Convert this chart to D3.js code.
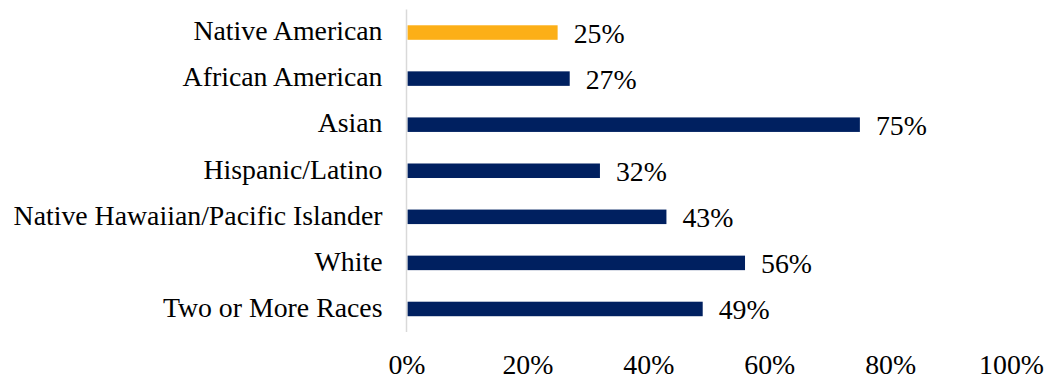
<!DOCTYPE html>
<html>
<head>
<meta charset="utf-8">
<script src="https://cdn.jsdelivr.net/npm/d3@7"></script>
<style>
  html, body { margin: 0; padding: 0; background: #ffffff; }
  svg { display: block; }
  text { font-family: "Liberation Serif", "Times New Roman", serif; fill: #000; }
</style>
</head>
<body>
<svg id="chart" width="1048" height="379"></svg>
<script>
// Share of students by race/ethnicity
const categories = [
  "Native American",
  "African American",
  "Asian",
  "Hispanic/Latino",
  "Native Hawaiian/Pacific Islander",
  "White",
  "Two or More Races"
];
const values = [25, 27, 75, 32, 43, 56, 49];
const highlighted = ["Native American"];
const tickValues = [0, 20, 40, 60, 80, 100];

const svg = d3.select("#chart");
const margin = { top: 9.5, left: 406.5, right: 37, bottom: 47 };
const width = 1048, height = 379;

const x = d3.scaleLinear()
  .domain([0, 100])
  .range([margin.left, width - margin.right]);

const y = d3.scaleBand()
  .domain(categories)
  .range([margin.top, height - margin.bottom])
  .paddingInner(0.685)
  .paddingOuter(0.3425);

const fontSize = 27.8;

// Bars
svg.append("g")
  .selectAll("rect")
  .data(categories)
  .join("rect")
  .attr("x", x(0) + 1)
  .attr("y", d => y(d))
  .attr("width", (d, i) => x(values[i]) - x(0) - 1)
  .attr("height", y.bandwidth())
  .attr("fill", d => highlighted.includes(d) ? "#FCAF17" : "#002060");

// Vertical category axis line
svg.append("line")
  .attr("x1", x(0)).attr("x2", x(0))
  .attr("y1", margin.top).attr("y2", height - margin.bottom)
  .attr("stroke", "#D9D9D9")
  .attr("stroke-width", 1.5);

// Category labels
const yAxis = d3.axisLeft(y).tickSize(0).tickPadding(24);
const gy = svg.append("g")
  .attr("transform", `translate(${x(0)},0)`)
  .call(yAxis);
gy.select(".domain").remove();
gy.selectAll("text")
  .attr("font-size", fontSize)
  .attr("font-family", "Liberation Serif, Times New Roman, serif")
  .attr("fill", "#000")
  .attr("dy", "0.28em");

// Value labels
svg.append("g")
  .selectAll("text")
  .data(categories)
  .join("text")
  .attr("x", (d, i) => x(values[i]) + 16)
  .attr("y", d => y(d) + y.bandwidth() / 2 + 10.5)
  .attr("font-size", fontSize)
  .text((d, i) => values[i] + "%");

// Percentage axis labels
const xAxis = d3.axisBottom(x)
  .tickValues(tickValues)
  .tickSize(0)
  .tickPadding(0)
  .tickFormat(d => d + "%");
const gx = svg.append("g")
  .attr("transform", `translate(0,${height - margin.bottom})`)
  .call(xAxis);
gx.select(".domain").remove();
gx.selectAll("text")
  .attr("font-size", fontSize)
  .attr("font-family", "Liberation Serif, Times New Roman, serif")
  .attr("fill", "#000")
  .attr("dy", 0)
  .attr("y", 41.5);
</script>
</body>
</html>
